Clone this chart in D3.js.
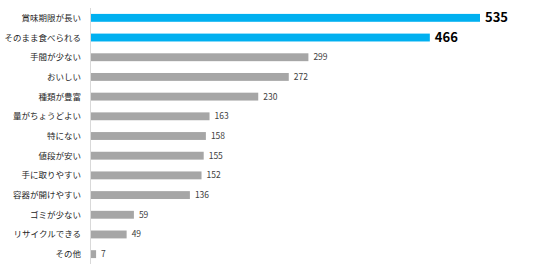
<!DOCTYPE html>
<html>
<head>
<meta charset="utf-8">
<script src="https://cdn.jsdelivr.net/npm/d3@7"></script>
<style>
  body { margin: 0; background: #fff; }
  text { font-family: "Noto Sans CJK JP", "Noto Sans", sans-serif; }
</style>
</head>
<body>
<svg id="chart"></svg>
<script>
// Data
var categories = ["賞味期限が長い", "そのまま食べられる", "手間が少ない", "おいしい", "種類が豊富",
  "量がちょうどよい", "特にない", "値段が安い", "手に取りやすい", "容器が開けやすい",
  "ゴミが少ない", "リサイクルできる", "その他"];
var values = [535, 466, 299, 272, 230, 163, 158, 155, 152, 136, 59, 49, 7];
var highlighted = ["賞味期限が長い", "そのまま食べられる"];

var svgWidth = 536;
var svgHeight = 273;
var margin = { top: 8, right: 0, bottom: 9, left: 91 };

var svg = d3.select("#chart")
  .attr("width", svgWidth)
  .attr("height", svgHeight);

var data = categories.map(function (c, i) {
  return { name: c, value: values[i] };
});

var xScale = d3.scaleLinear()
  .domain([0, 535])
  .range([margin.left, 480]);

var yScale = d3.scaleBand()
  .domain(categories)
  .range([margin.top, svgHeight - margin.bottom])
  .paddingInner(0.6)
  .paddingOuter(0.3);

// category labels
svg.append("g")
  .selectAll("text")
  .data(data)
  .enter()
  .append("text")
  .attr("x", 81)
  .attr("y", function (d) { return yScale(d.name) + yScale.bandwidth() / 2; })
  .attr("dy", "0.35em")
  .attr("text-anchor", "end")
  .attr("font-size", "8.5px")
  .attr("fill", "#262626")
  .text(function (d) { return d.name; });

// bars
svg.append("g")
  .selectAll("rect")
  .data(data)
  .enter()
  .append("rect")
  .attr("x", xScale(0))
  .attr("y", function (d) { return yScale(d.name); })
  .attr("width", function (d) { return xScale(d.value) - xScale(0); })
  .attr("height", yScale.bandwidth())
  .attr("fill", function (d) {
    return highlighted.indexOf(d.name) >= 0 ? "#00b0f0" : "#a6a6a6";
  });

// value labels
svg.append("g")
  .selectAll("text")
  .data(data)
  .enter()
  .append("text")
  .attr("x", function (d) {
    return xScale(d.value) + (highlighted.indexOf(d.name) >= 0 ? 5 : 5);
  })
  .attr("y", function (d) { return yScale(d.name) + yScale.bandwidth() / 2; })
  .attr("dy", "0.35em")
  .attr("font-size", function (d) {
    return highlighted.indexOf(d.name) >= 0 ? "13px" : "8.5px";
  })
  .attr("font-weight", function (d) {
    return highlighted.indexOf(d.name) >= 0 ? "bold" : "normal";
  })
  .attr("fill", function (d) {
    return highlighted.indexOf(d.name) >= 0 ? "#000" : "#404040";
  })
  .text(function (d) { return d.value; });

// axis line
svg.append("line")
  .attr("x1", xScale(0) - 0.5)
  .attr("x2", xScale(0) - 0.5)
  .attr("y1", margin.top)
  .attr("y2", 264)
  .attr("stroke", "#d9d9d9")
  .attr("stroke-width", 1);
</script>
</body>
</html>
